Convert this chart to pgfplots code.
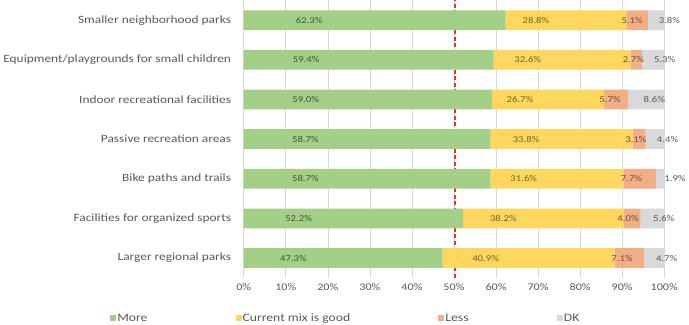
\documentclass[border=0pt]{standalone}
\usepackage{pgfplots}
\pgfplotsset{compat=1.18}
\usepackage{pgfplotstable}
\usepackage{fontspec}
\setmainfont{Carlito}[FakeStretch=1.2]

\definecolor{cMore}{HTML}{A3CF86}
\definecolor{cGood}{HTML}{FFD75E}
\definecolor{cLess}{HTML}{F2AF85}
\definecolor{cDK}{HTML}{D9D9D9}
\definecolor{txt}{HTML}{595959}
\definecolor{gridc}{HTML}{D9D9D9}
\definecolor{redline}{HTML}{E8321E}

% row 6 = top of chart
\pgfplotstableread{
y more good less dk
6 62.3 28.8 5.1 3.8
5 59.4 32.6 2.7 5.3
4 59.0 26.7 5.7 8.6
3 58.7 33.8 3.1 4.4
2 58.7 31.6 7.7 1.9
1 52.2 38.2 4.0 5.6
0 47.3 40.9 7.1 4.7
}\survey

\begin{document}
\begin{tikzpicture}
\begin{axis}[
  scale only axis,
  width=415pt, height=274pt,
  xbar stacked,
  bar width=19.5pt,
  xmin=0, xmax=100,
  ymin=-0.5, ymax=6.5,
  xtick={0,10,...,100},
  xticklabel={\pgfmathprintnumber{\tick}\%},
  ytick={0,...,6},
  yticklabels={Larger regional parks, Facilities for organized sports,
    Bike paths and trails, Passive recreation areas,
    Indoor recreational facilities, Equipment/playgrounds for small children,
    Smaller neighborhood parks},
  /pgf/number format/assume math mode=true,
  axis line style={draw=none},
  major tick length=0pt,
  xmajorgrids, grid style={gridc, line width=0.6pt},
  tick label style={text=txt},
  yticklabel style={font=\fontsize{11}{13}\selectfont, xshift=-9pt},
  xticklabel style={font=\fontsize{10}{12}\selectfont, yshift=-2pt},
  nodes near coords={\pgfmathprintnumber[fixed,fixed zerofill,precision=1]{\pgfplotspointmeta}\%},
  point meta=explicit,
  visualization depends on=rawx \as \rawx,
  every node near coord/.append style={font=\fontsize{8.8}{10}\selectfont,
    anchor=center, xshift=-1.0375pt*\rawx},
  legend columns=4,
  legend style={at={(-0.318,-0.146)}, anchor=west, draw=none,
    font=\fontsize{11.2}{13}\selectfont, text=txt, inner sep=0pt,
    nodes={inner sep=1pt},
    /tikz/every even column/.append style={column sep=86pt}},
  legend image code/.code={\fill[#1] (0pt,-3pt) rectangle (6pt,3pt);},
]
\addplot[fill=cMore, draw=none, every node near coord/.append style={text=cMore!40!black}] table[x=more, y=y, meta=more] {\survey};
\addplot[fill=cGood, draw=none, every node near coord/.append style={text=cGood!45!black}] table[x=good, y=y, meta=good] {\survey};
\addplot[fill=cLess, draw=none, every node near coord/.append style={text=cLess!45!black}] table[x=less, y=y, meta=less] {\survey};
\addplot[fill=cDK, draw=none, every node near coord/.append style={text=txt, xshift=17pt}] table[x=dk, y=y, meta=dk] {\survey};
\legend{More, Current mix is good, Less, DK}
\draw[redline, line width=2pt, dash pattern=on 4pt off 2.5pt]
  (axis cs:50.3,-0.5) -- (axis cs:50.3,6.5) -- ++(0,2.5pt);
\end{axis}
\end{tikzpicture}
\end{document}
